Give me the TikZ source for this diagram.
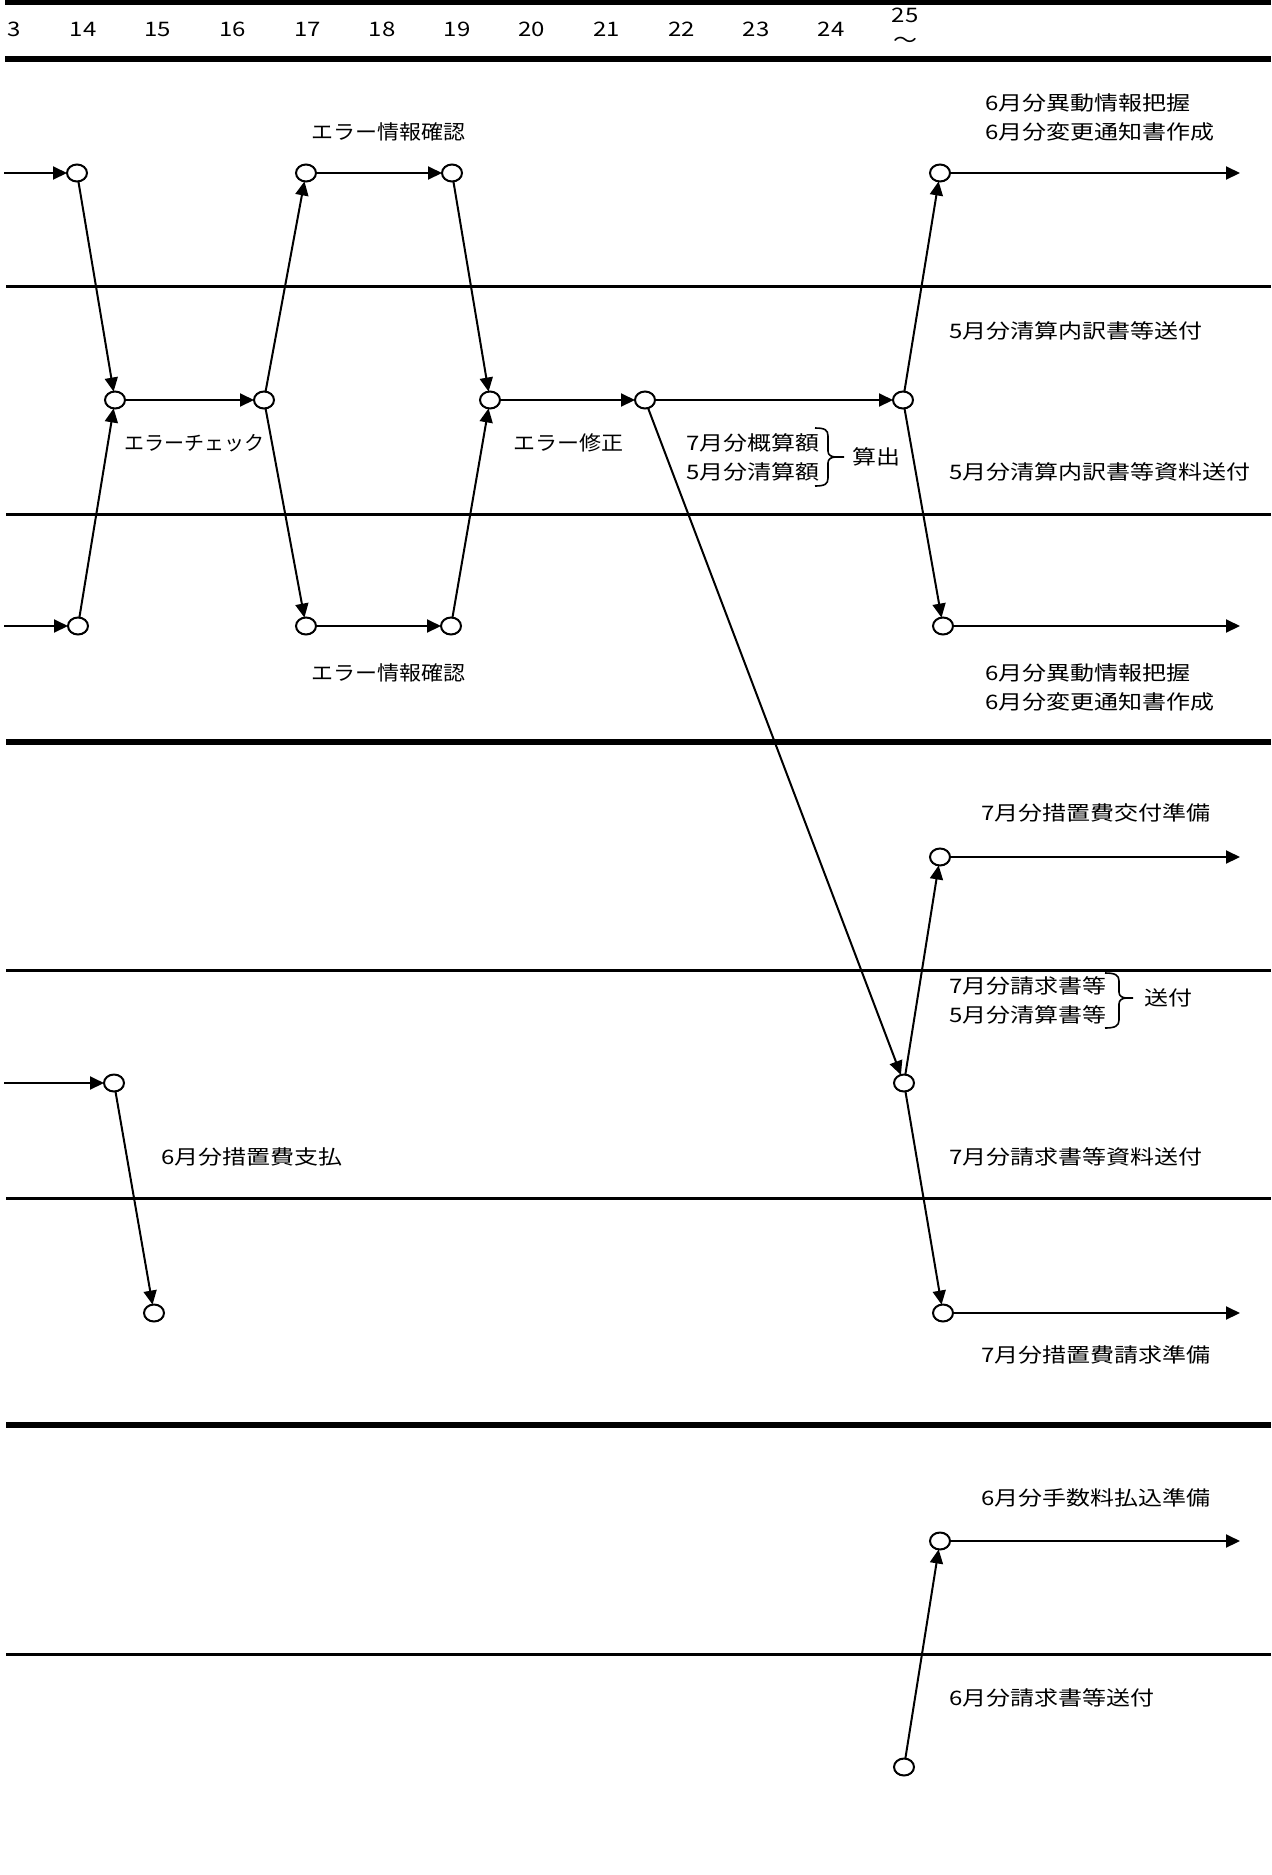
\documentclass[tikz,border=0pt]{standalone}
\usepackage{fontspec}
\newfontfamily\jp{Noto Sans CJK JP}[FakeStretch=1.2]
\newfontfamily\jpn{Noto Sans CJK JP}[FakeStretch=1.1]
\newfontfamily\jpk{Noto Sans CJK JP}[FakeStretch=1.0]
\newfontfamily\jpb{Noto Sans CJK JP Medium}[FakeStretch=1.0]
\usetikzlibrary{arrows.meta,shapes.geometric}
\begin{document}
\begin{tikzpicture}[x=0.5pt,y=-0.5pt,
  ev/.style={ellipse,draw,fill=white,line width=1pt,minimum width=10pt,minimum height=8.5pt,inner sep=0pt,outer sep=0pt},
  flow/.style={line width=1pt,-{Triangle[length=7pt,width=6.5pt]}},
  bandthin/.style={line width=1.5pt},
  bandthick/.style={line width=3pt},
  lbl/.style={font=\jp\fontsize{10pt}{14.5pt}\selectfont,inner sep=0pt,anchor=west,align=left},
  ctr/.style={font=\jp\fontsize{10pt}{14.5pt}\selectfont,inner sep=0pt},
  hdr/.style={font=\jp\fontsize{10pt}{11pt}\selectfont,inner sep=0pt},
  bracepath/.style={line width=0.8pt}]
\useasboundingbox (0,0) rectangle (1271,1875);

% header bars
\draw[line width=2.5pt] (5,2.5) -- (1271,2.5);
\draw[line width=3pt] (5,59) -- (1271,59);
\node[hdr] (h13) at (14,29.5) {3};
\foreach \n in {14,...,24}{
  \node[hdr] (h\n) at ({83+(\n-14)*74.8},29.5) {\n};
}
\node[hdr] (h25) at (905,15.5) {25};
\node[hdr,font=\jp\fontsize{10pt}{11pt}\selectfont] (htilde) at (905,42.5) {～};

% band lines
\draw[bandthin] (6,286) -- (1271,286);
\draw[bandthin] (6,514) -- (1271,514);
\draw[bandthick] (6,742) -- (1271,742);
\draw[bandthin] (6,970) -- (1271,970);
\draw[bandthin] (6,1198) -- (1271,1198);
\draw[bandthick] (6,1425) -- (1271,1425);
\draw[bandthin] (6,1654) -- (1271,1654);

% events
\node[ev] (A1) at (77,173) {};
\node[ev] (A2) at (306,173) {};
\node[ev] (A3) at (452,173) {};
\node[ev] (A4) at (940,173) {};
\node[ev] (B1) at (115,400) {};
\node[ev] (B2) at (264,400) {};
\node[ev] (B3) at (490,400) {};
\node[ev] (B4) at (645,400) {};
\node[ev] (B5) at (903,400) {};
\node[ev] (C1) at (78,626) {};
\node[ev] (C2) at (306,626) {};
\node[ev] (C3) at (451,626) {};
\node[ev] (C4) at (943,626) {};
\node[ev] (D1) at (940,857) {};
\node[ev] (E1) at (114,1083) {};
\node[ev] (E2) at (904,1083) {};
\node[ev] (F1) at (154,1313) {};
\node[ev] (F2) at (943,1313) {};
\node[ev] (G1) at (940,1541) {};
\node[ev] (H1) at (904,1767) {};

% free ends
\coordinate (As) at (4,173);
\coordinate (Cs) at (4,626);
\coordinate (Es) at (4,1083);
\coordinate (Ae) at (1240,173);
\coordinate (Ce) at (1240,626);
\coordinate (De) at (1240,857);
\coordinate (Fe) at (1240,1313);
\coordinate (Ge) at (1240,1541);

% connectors
\draw[flow] (As) -- (A1);
\draw[flow] (A2) -- (A3);
\draw[flow] (A4) -- (Ae);
\draw[flow] (B1) -- (B2);
\draw[flow] (B3) -- (B4);
\draw[flow] (B4) -- (B5);
\draw[flow] (Cs) -- (C1);
\draw[flow] (C2) -- (C3);
\draw[flow] (C4) -- (Ce);
\draw[flow] (D1) -- (De);
\draw[flow] (Es) -- (E1);
\draw[flow] (F2) -- (Fe);
\draw[flow] (G1) -- (Ge);

\draw[flow] (A1) -- (B1);
\draw[flow] (C1) -- (B1);
\draw[flow] (B2) -- (A2);
\draw[flow] (B2) -- (C2);
\draw[flow] (A3) -- (B3);
\draw[flow] (C3) -- (B3);
\draw[flow] (B5) -- (A4);
\draw[flow] (B5) -- (C4);
\draw[flow] (B4) -- (E2);
\draw[flow] (E2) -- (D1);
\draw[flow] (E2) -- (F2);
\draw[flow] (E1) -- (F1);
\draw[flow] (H1) -- (G1);

% labels
\node[ctr,font=\jpn\fontsize{10pt}{14.5pt}\selectfont] (t1) at (388,132) {エラー情報確認};
\node[ctr,font=\jpk\fontsize{10pt}{14.5pt}\selectfont] (t2) at (194,443) {エラーチェック};
\node[ctr,font=\jpn\fontsize{10pt}{14.5pt}\selectfont] (t3) at (568,443) {エラー修正};
\node[ctr,font=\jpn\fontsize{10pt}{14.5pt}\selectfont] (t4) at (388,673) {エラー情報確認};
\node[lbl] (t5) at (985,117.5) {6月分異動情報把握\\6月分変更通知書作成};
\node[lbl] (t6) at (949,331) {5月分清算内訳書等送付};
\node[lbl] (t7) at (686,457.5) {7月分概算額\\5月分清算額};
\node[ctr] (t8) at (876,457) {算出};
\node[lbl] (t9) at (949,472) {5月分清算内訳書等資料送付};
\node[lbl] (t10) at (985,687) {6月分異動情報把握\\6月分変更通知書作成};
\node[lbl] (t11) at (981,813) {7月分措置費交付準備};
\node[lbl] (t12) at (949,1000) {7月分請求書等\\5月分清算書等};
\node[ctr] (t13) at (1168,998) {送付};
\node[lbl] (t14) at (949,1157) {7月分請求書等資料送付};
\node[lbl] (t15) at (161,1157) {6月分措置費支払};
\node[lbl] (t16) at (981,1355) {7月分措置費請求準備};
\node[lbl] (t17) at (981,1498) {6月分手数料払込準備};
\node[lbl] (t18) at (949,1698) {6月分請求書等送付};

% braces
\draw[bracepath] (815,428) .. controls (825,428) and (828,430) .. (828,436) -- (828,451) .. controls (828,455) and (831,457) .. (836,457) -- (844,457);
\draw[bracepath] (836,457) .. controls (831,457) and (828,459) .. (828,463) -- (828,478) .. controls (828,484) and (825,486) .. (815,486);
\draw[bracepath] (1105,973) .. controls (1115,973) and (1119,975) .. (1119,981) -- (1119,992) .. controls (1119,996) and (1122,998) .. (1127,998) -- (1133,998);
\draw[bracepath] (1127,998) .. controls (1122,998) and (1119,1000) .. (1119,1004) -- (1119,1020) .. controls (1119,1026) and (1115,1028) .. (1105,1028);
\end{tikzpicture}
\end{document}
